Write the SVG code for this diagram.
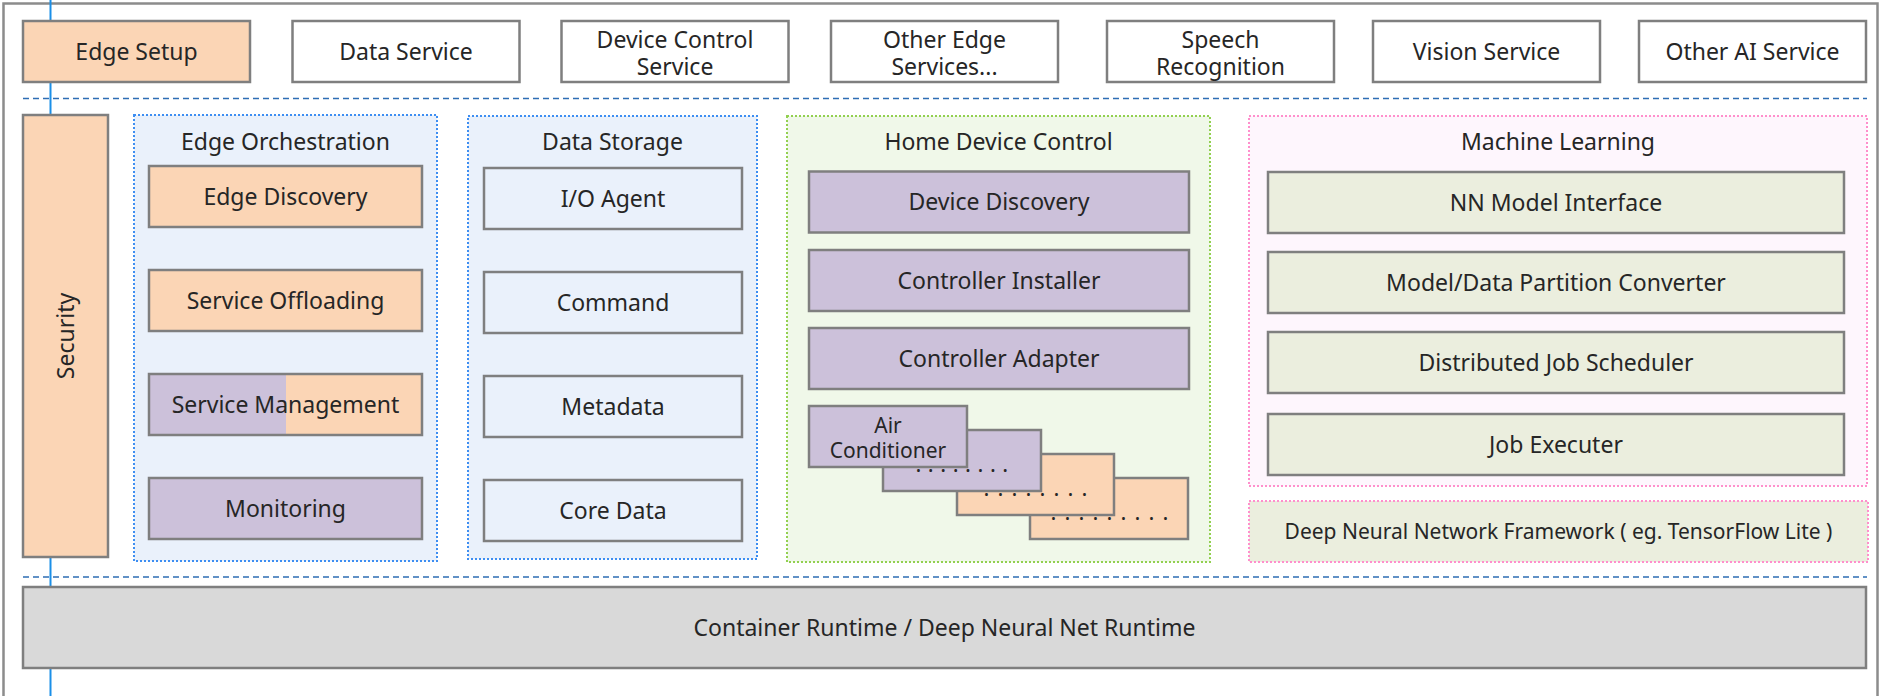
<svg xmlns="http://www.w3.org/2000/svg" width="1883" height="696" viewBox="0 0 1883 696">
<style>
text{font-family:"Noto Sans","Open Sans","DejaVu Sans",sans-serif;font-size:23px;fill:#262626;text-anchor:middle}
.b{stroke:#7f7f7f;stroke-width:2.5}
.w{fill:#ffffff}
.pe{fill:#fbd5b5}
.pu{fill:#ccc1da}
.ol{fill:#ebeede}
.gr{fill:#d9d9d9}
.lb{fill:#eaf1fb}
.g-blue{fill:#eaf1fb;stroke:#3d8ef2;stroke-width:2;stroke-dasharray:2 2}
.g-green{fill:#f0f8e9;stroke:#92d050;stroke-width:2;stroke-dasharray:2 2}
.g-pink{fill:#fef6fd;stroke:#ff8fcc;stroke-width:2;stroke-dasharray:2 2}
.sep{stroke:#2e6db4;stroke-width:1.5;stroke-dasharray:6 4;fill:none}
.dots{font-size:22px;letter-spacing:1.2px}
.sm{font-size:21px}
</style>
<rect x="0" y="0" width="1883" height="696" fill="#ffffff"/>
<rect id="frame" x="3.5" y="3.5" width="1874" height="720" fill="#ffffff" stroke="#8c8c8c" stroke-width="2.5"/>
<g id="connectors">
<line x1="50.5" y1="0" x2="50.5" y2="696" stroke="#1b8fe8" stroke-width="2"/>
<line class="sep" x1="23" y1="98.5" x2="1867" y2="98.5"/>
<line class="sep" x1="23" y1="577" x2="1867" y2="577"/>
</g>
<g id="edge-setup"><rect class="b pe" x="23" y="21" width="227" height="61"/><text x="136.5" y="60">Edge Setup</text></g>
<g id="data-service"><rect class="b w" x="292.5" y="21" width="227" height="61"/><text x="406" y="60">Data Service</text></g>
<g id="device-control-service"><rect class="b w" x="561.5" y="21" width="227" height="61"/><text x="675" y="48">Device Control<tspan x="675" dy="27">Service</tspan></text></g>
<g id="other-edge-services"><rect class="b w" x="831" y="21" width="227" height="61"/><text x="944.5" y="48">Other Edge<tspan x="944.5" dy="27">Services...</tspan></text></g>
<g id="speech-recognition"><rect class="b w" x="1107" y="21" width="227" height="61"/><text x="1220.5" y="48">Speech<tspan x="1220.5" dy="27">Recognition</tspan></text></g>
<g id="vision-service"><rect class="b w" x="1373" y="21" width="227" height="61"/><text x="1486.5" y="60">Vision Service</text></g>
<g id="other-ai-service"><rect class="b w" x="1639" y="21" width="227" height="61"/><text x="1752.5" y="60">Other AI Service</text></g>

<g id="security"><rect class="b pe" x="23" y="115" width="85" height="442"/><text transform="translate(74,336) rotate(-90)" x="0" y="0">Security</text></g>

<g id="edge-orchestration">
<rect class="g-blue" x="134" y="115" width="303" height="446"/>
<text x="285.5" y="150">Edge Orchestration</text>
</g>
<g id="edge-discovery"><rect class="b pe" x="149" y="166" width="273" height="61"/><text x="285.5" y="204.5">Edge Discovery</text></g>
<g id="service-offloading"><rect class="b pe" x="149" y="270" width="273" height="61"/><text x="285.5" y="308.5">Service Offloading</text></g>
<g id="service-management"><rect class="pu" x="149" y="374" width="137" height="61"/><rect class="pe" x="286" y="374" width="136" height="61"/><rect class="b" fill="none" x="149" y="374" width="273" height="61"/><text x="285.5" y="412.5">Service Management</text></g>
<g id="monitoring"><rect class="b pu" x="149" y="478" width="273" height="61"/><text x="285.5" y="516.5">Monitoring</text></g>

<g id="data-storage">
<rect class="g-blue" x="468" y="116" width="289" height="443"/>
<text x="612.5" y="150">Data Storage</text>
</g>
<g id="io-agent"><rect class="b lb" x="484" y="168" width="258" height="61"/><text x="613" y="206.5">I/O Agent</text></g>
<g id="command"><rect class="b lb" x="484" y="272" width="258" height="61"/><text x="613" y="310.5">Command</text></g>
<g id="metadata"><rect class="b lb" x="484" y="376" width="258" height="61"/><text x="613" y="414.5">Metadata</text></g>
<g id="core-data"><rect class="b lb" x="484" y="480" width="258" height="61"/><text x="613" y="518.5">Core Data</text></g>

<g id="home-device-control">
<rect class="g-green" x="787" y="116" width="423" height="446"/>
<text x="998.5" y="150">Home Device Control</text>
</g>
<g id="device-discovery"><rect class="b pu" x="809" y="171.5" width="380" height="61"/><text x="999" y="210">Device Discovery</text></g>
<g id="controller-installer"><rect class="b pu" x="809" y="250" width="380" height="61"/><text x="999" y="288.5">Controller Installer</text></g>
<g id="controller-adapter"><rect class="b pu" x="809" y="328" width="380" height="61"/><text x="999" y="366.5">Controller Adapter</text></g>
<g id="device-4"><rect class="b pe" x="1030" y="478" width="158" height="61"/><text class="dots" x="1110" y="520">. . . . . . . . .</text></g>
<g id="device-3"><rect class="b pe" x="957" y="454" width="157" height="61"/><text class="dots" x="1036" y="496">. . . . . . . .</text></g>
<g id="device-2"><rect class="b pu" x="883" y="430" width="158" height="61"/><text class="dots" x="962" y="471.5" style="letter-spacing:0.4px">. . . . . . . .</text></g>
<g id="air-conditioner"><rect class="b pu" x="809" y="406" width="158" height="61"/><text class="sm" x="888" y="433">Air<tspan x="888" dy="25">Conditioner</tspan></text></g>

<g id="machine-learning">
<rect class="g-pink" x="1249" y="116" width="618" height="370"/>
<text x="1558" y="150">Machine Learning</text>
</g>
<g id="nn-model-interface"><rect class="b ol" x="1268" y="172" width="576" height="61"/><text x="1556" y="210.5">NN Model Interface</text></g>
<g id="partition-converter"><rect class="b ol" x="1268" y="252" width="576" height="61"/><text x="1556" y="290.5">Model/Data Partition Converter</text></g>
<g id="job-scheduler"><rect class="b ol" x="1268" y="332" width="576" height="61"/><text x="1556" y="370.5">Distributed Job Scheduler</text></g>
<g id="job-executer"><rect class="b ol" x="1268" y="414" width="576" height="61"/><text x="1556" y="452.5">Job Executer</text></g>
<g id="dnn-framework"><rect class="ol" stroke="#ff8fcc" stroke-width="2" stroke-dasharray="2 2" x="1249" y="501" width="619" height="61"/><text x="1558.5" y="538.5" style="font-size:21px">Deep Neural Network Framework ( eg. TensorFlow Lite )</text></g>

<g id="container-runtime"><rect class="b gr" x="23" y="587" width="1843" height="81"/><text x="944.5" y="635.5">Container Runtime / Deep Neural Net Runtime</text></g>
</svg>
